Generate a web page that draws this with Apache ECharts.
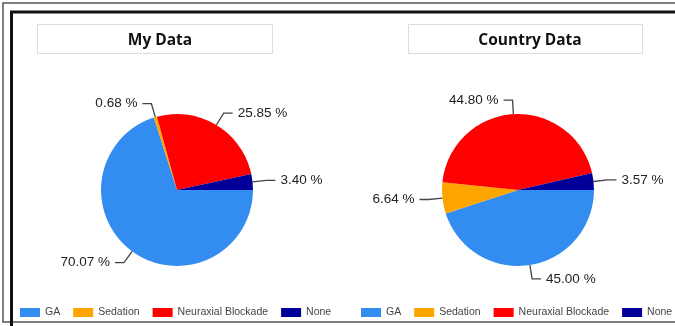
<!DOCTYPE html>
<html>
<head>
<meta charset="utf-8">
<script src="https://cdn.jsdelivr.net/npm/echarts@6/dist/echarts.min.js"></script>
<style>
html,body{margin:0;padding:0;background:#fff;}
#chart{width:675px;height:326px;}
</style>
</head>
<body>
<div id="chart"></div>
<script>
const categories = ['GA', 'Sedation', 'Neuraxial Blockade', 'None'];
const myDataValues = [70.07, 0.68, 25.85, 3.40];
const countryDataValues = [45.00, 6.64, 44.80, 3.57];
const chartTitles = ['My Data', 'Country Data'];
const colors = ['#338cf0', '#ffa500', '#ff0000', '#000099'];

const chart = echarts.init(document.getElementById('chart'));

function pieSeries(values, center) {
  return {
    type: 'pie',
    center: center,
    radius: 76,
    startAngle: 0,
    clockwise: true,
    animation: false,
    itemStyle: { borderWidth: 0 },
    label: {
      show: true,
      overflow: 'none',
      formatter: function (p) { return p.value.toFixed(2) + ' %'; },
      fontFamily: 'Liberation Sans, Arial, sans-serif',
      fontSize: 13.5,
      color: '#222'
    },
    labelLine: {
      show: true,
      length: 14,
      length2: 9,
      lineStyle: { color: '#444', width: 1.3 }
    },
    emphasis: { disabled: true },
    data: categories.map((c, i) => ({ name: c, value: values[i] }))
  };
}

function legend(left) {
  return {
    left: left,
    top: 307,
    width: 320,
    padding: 0,
    itemWidth: 20,
    itemHeight: 9,
    itemGap: 13,
    icon: 'rect',
    selectedMode: false,
    textStyle: { fontFamily: 'Liberation Sans, Arial, sans-serif', fontSize: 10.5, color: '#444' },
    data: categories
  };
}

chart.setOption({
  backgroundColor: '#fff',
  color: colors,
  title: [
    { text: chartTitles[0], left: 155, top: 28, textAlign: 'center',
      textStyle: { fontFamily: 'Open Sans, Noto Sans, sans-serif', fontSize: 15.5, fontWeight: 'bold', color: '#111' } },
    { text: chartTitles[1], left: 525, top: 28, textAlign: 'center',
      textStyle: { fontFamily: 'Open Sans, Noto Sans, sans-serif', fontSize: 15.5, fontWeight: 'bold', color: '#111' } }
  ],
  legend: [legend(20), legend(361)],
  graphic: [
    { type: 'rect', z: -1, shape: { x: 3, y: 3, width: 700, height: 319 }, style: { fill: null, stroke: '#555', lineWidth: 1.5 } },
    { type: 'polyline', shape: { points: [[11.5, 330], [11.5, 12], [680, 12]] }, style: { fill: null, stroke: '#111', lineWidth: 3 } },
    { type: 'rect', z: -1, shape: { x: 37.5, y: 24.5, width: 235, height: 29 }, style: { fill: '#fff', stroke: '#dcdcdc', lineWidth: 1 } },
    { type: 'rect', z: -1, shape: { x: 408.5, y: 24.5, width: 234, height: 29 }, style: { fill: '#fff', stroke: '#dcdcdc', lineWidth: 1 } }
  ],
  series: [
    pieSeries(myDataValues, [177, 190]),
    pieSeries(countryDataValues, [518, 190])
  ]
});
</script>
</body>
</html>
